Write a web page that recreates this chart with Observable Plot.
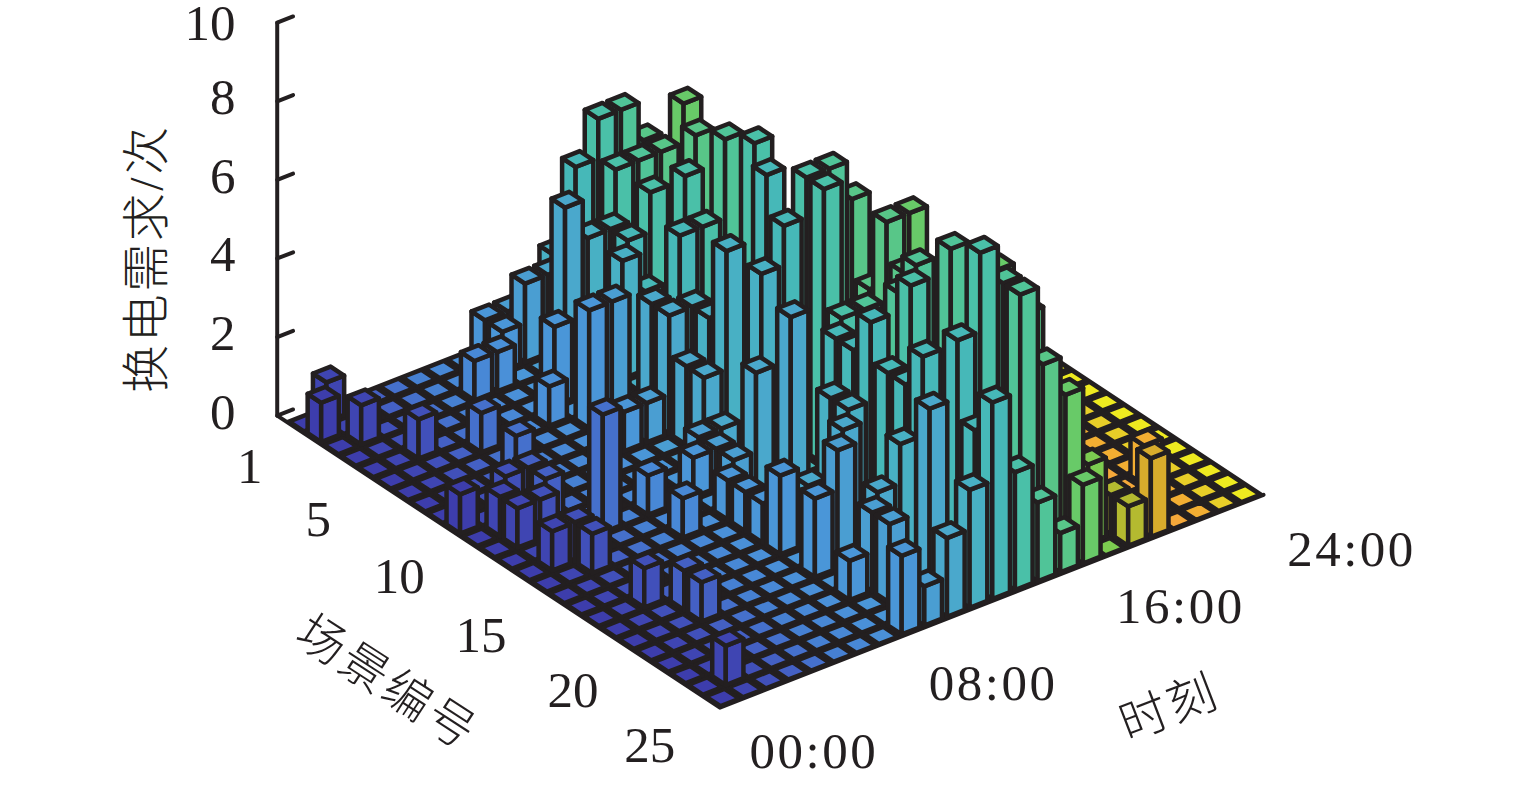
<!DOCTYPE html>
<html><head><meta charset="utf-8">
<style>html,body{margin:0;padding:0;background:#fff;overflow:hidden}
.slotlabel text{letter-spacing:2.5px}.wide text{letter-spacing:3px}.ylab text{letter-spacing:2.5px}</style>
<script src="https://cdn.jsdelivr.net/npm/d3@7"></script>
<script src="https://cdn.jsdelivr.net/npm/@observablehq/plot@0.6"></script>
</head><body><div id="chart"></div>
<script>
const scenarioTicks=[1,5,10,15,20,25];
const hourTicks=[0,8,16,24];
const hourLabels=["00:00","08:00","16:00","24:00"];
const demandTicks=[0,2,4,6,8,10];
const slotColors=["#3d3dac","#3f45b2","#4150ba","#4460c4","#4570cc","#4680d2","#4888d6","#4a90d8","#4a96d8","#4a9ed2","#4aa8cc","#48b0c4","#46b8b8","#4ac0a8","#50c498","#58c688","#68ca68","#7ccc50","#b4ba30","#d8ac2c","#f5a83a","#f2ae32","#e8ce28","#eeea20"];
const demand=[
[0,1,0,0,0,0,0,0,1,1,1,2,4,5,5,4,0,0,0,0,0,0,0,0],
[1,0,0,0,0,0,0,0,1,2,2,2,2,4,4,4,5,0,0,0,0,0,0,0],
[0,1,0,0,0,0,1,1,0,0,4,3,3,0,0,0,0,0,0,0,0,0,0,0],
[0,0,0,0,0,0,0,0,0,0,0,0,3,4,0,5,0,0,0,0,0,0,0,0],
[0,0,1,0,0,0,0,0,2,0,0,3,2,0,0,0,0,0,0,0,0,0,0,0],
[0,0,0,0,1,0,0,1,0,0,0,0,0,5,0,0,0,0,0,0,0,0,0,0],
[0,0,0,0,0,0,0,0,3,3,0,0,4,4,6,0,0,0,0,0,0,0,0,0],
[0,0,0,0,1,0,0,0,0,0,3,0,0,0,0,0,0,0,0,0,0,0,0,0],
[0,0,0,0,0,0,0,0,1,1,3,3,0,0,0,0,0,0,0,0,0,0,0,0],
[1,0,1,1,0,0,0,0,0,0,2,3,0,7,0,0,0,0,0,0,0,0,0,0],
[0,1,0,1,0,0,0,0,0,0,2,5,0,0,0,0,0,0,0,0,0,0,0,0],
[0,1,1,0,0,0,0,0,0,1,1,0,7,0,0,0,0,0,0,0,0,0,0,0],
[0,0,0,0,3,0,1,0,1,1,0,5,6,7,7,6,0,0,0,0,0,0,0,0],
[0,1,1,0,0,0,0,0,0,1,3,0,0,7,0,4,0,0,0,0,0,0,0,0],
[0,0,1,0,0,0,1,0,1,0,0,0,0,4,4,6,6,0,0,0,0,0,0,0],
[0,0,0,0,0,0,0,0,1,0,5,0,4,0,0,5,0,0,0,0,0,0,0,0],
[0,0,0,0,0,0,0,0,1,0,1,3,4,0,5,0,0,0,0,0,0,0,0,0],
[0,0,1,0,0,0,0,0,2,0,0,3,5,0,6,0,0,0,0,0,0,0,0,0],
[0,0,0,1,0,0,0,0,0,0,3,0,4,6,0,0,0,0,0,0,0,0,0,0],
[0,0,0,1,0,0,0,0,2,3,0,0,4,0,7,0,6,0,0,0,0,0,0,0],
[0,0,0,0,0,0,0,0,0,0,2,3,5,0,0,0,0,0,0,0,0,0,0,0],
[0,0,0,0,0,0,0,0,1,2,0,0,0,2,0,0,0,0,0,0,0,1,0,0],
[0,0,0,0,0,0,0,0,0,2,0,0,6,8,7,6,0,0,0,0,0,0,0,0],
[0,1,0,0,0,0,0,0,0,0,5,0,4,0,7,5,4,2,1,0,0,0,0,0],
[0,0,0,0,0,0,0,0,2,1,2,3,5,3,2,1,2,0,1,2,0,0,0,0]
];
const px=(s,t)=>305.4+17.36*(s-1)+22.65*(t-1);
const py=(s,t,z)=>422.2+11.45*(s-1)-8.87*(t-1)-39.3*z;
const halfBar=0.39, sMin=0, sFloor=0.5, sMax=25.5, tMin=0.5, tMax=24.5;
const ink="#231f20";
const corner=(s,t,z,face,fill)=>({x:px(s,t),y:py(s,t,z),face,fill});
const floor=[corner(sFloor,tMin,0,"floor",ink),corner(sMax,tMin,0,"floor",ink),corner(sMax,tMax,0,"floor",ink),corner(sFloor,tMax,0,"floor",ink)];
const tiles=[], faces=[];
let id=0;
demand.forEach((row,si)=>{
  const s=si+1;
  for(let j=24;j>=1;j--){
    const z=row[j-1],c=slotColors[j-1],h=halfBar;
    const s0=s-h,s1=s+h,t0=j-h,t1=j+h;
    const out=z>0?faces:tiles;
    if(z>0){
      id++;out.push(corner(s0,t0,0,id,c),corner(s1,t0,0,id,c),corner(s1,t0,z,id,c),corner(s0,t0,z,id,c));
      id++;out.push(corner(s1,t0,0,id,c),corner(s1,t1,0,id,c),corner(s1,t1,z,id,c),corner(s1,t0,z,id,c));
    }
    id++;out.push(corner(s0,t0,z,id,c),corner(s1,t0,z,id,c),corner(s1,t1,z,id,c),corner(s0,t1,z,id,c));
  }
});
const frame=[{x:px(sMin,tMin),y:py(sMin,tMin,10)},{x:px(sMin,tMin),y:py(sMin,tMin,0)},{x:px(sMax,tMin),y:py(sMax,tMin,0)},{x:px(sMax,tMax),y:py(sMax,tMax,0)}];
const tickSegs=demandTicks.flatMap(v=>[
  {v,x:px(sMin,tMin),y:py(sMin,tMin,v)},
  {v,x:px(sMin,tMin+0.7),y:py(sMin,tMin+0.7,v)}]);
// small label placement corrections
const scenarioNudge={1:[0,-7],5:[-1,0],10:[6,-1],15:[1,1],20:[6,-1],25:[-4,-3]};
const hourNudge={0:[2,-3],8:[0,0],16:[6,-6],24:[-4,8]};
const font='"Liberation Serif","Noto Sans CJK SC",serif';
const chart=Plot.plot({
  width:1535,height:792,margin:0,
  x:{domain:[0,1535],range:[0,1535],axis:null},
  y:{domain:[0,792],range:[0,792],axis:null},
  color:{type:"identity"},
  style:{background:"#fff",fontFamily:font},
  marks:[
    Plot.line(frame,{x:"x",y:"y",stroke:ink,strokeWidth:4}),
    Plot.line(tickSegs,{x:"x",y:"y",z:"v",stroke:ink,strokeWidth:4}),
    Plot.line(floor,{x:"x",y:"y",z:"face",fill:"fill",stroke:ink,strokeWidth:2,curve:"linear-closed"}),
    Plot.line(tiles,{x:"x",y:"y",z:"face",fill:"fill",stroke:ink,strokeWidth:3.2,strokeLinejoin:"round",curve:"linear-closed"}),
    Plot.line(faces,{x:"x",y:"y",z:"face",fill:"fill",stroke:ink,strokeWidth:4.5,strokeLinejoin:"round",curve:"linear-closed"}),
    Plot.text(demandTicks,{x:()=>235,y:v=>py(sMin,tMin,v)+(v===10?0.5:-3.5),text:String,textAnchor:"end",fontSize:51,fill:ink}),
    Plot.text(scenarioTicks,{x:v=>px(v,tMin)-32+scenarioNudge[v][0],y:v=>py(v,tMin,0)+47+scenarioNudge[v][1],text:String,textAnchor:"end",fontSize:51,fill:ink}),
    Plot.text(hourTicks,{x:h=>px(sMax,h+tMin)+92+hourNudge[h][0],y:h=>py(sMax,h+tMin,0)+47+hourNudge[h][1],text:(h,i)=>hourLabels[i],fontSize:51,fill:ink,className:"slotlabel"}),
    Plot.text(["换电需求/次"],{x:()=>147,y:()=>258,text:d=>d,rotate:-90,fontSize:48,fontWeight:300,fill:ink,className:"ylab"}),
    Plot.text(["场景编号"],{x:()=>386,y:()=>683,text:d=>d,rotate:33,fontSize:48,fontWeight:300,fill:ink,className:"wide"}),
    Plot.text(["时刻"],{x:()=>1169,y:()=>708,text:d=>d,rotate:-21,fontSize:48,fontWeight:300,fill:ink,className:"wide"})
  ]
});
document.getElementById("chart").append(chart);
</script></body></html>
